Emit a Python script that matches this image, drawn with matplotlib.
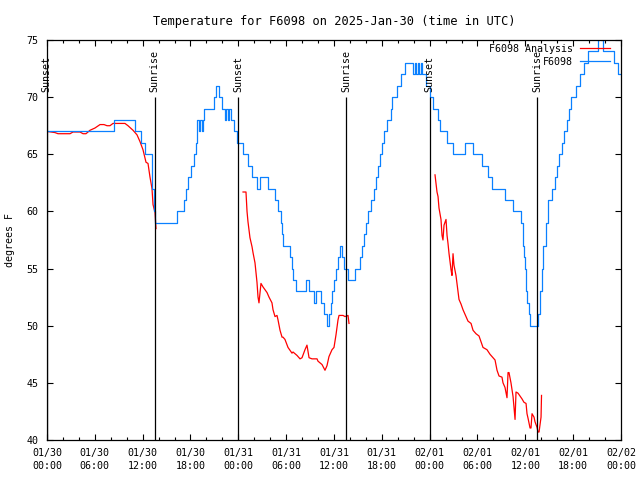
import numpy as np
import pandas as pd
import matplotlib
matplotlib.use('Agg')
import matplotlib.pyplot as plt
import matplotlib.dates as mdates

plt.rcParams['font.family'] = ['DejaVu Sans Mono']
plt.rcParams['font.size'] = 7.2

start = pd.Timestamp('2025-01-30 00:00')

# F6098 observations: hours since start, temperature (deg F) at each change
obs_hours = [0.0, 8.40, 11.04, 11.79, 12.29, 13.17, 13.36, 13.55, 16.31, 17.19,
             17.44, 17.69, 18.06, 18.44, 18.69, 18.82, 19.07, 19.25, 19.44, 19.62,
             19.75, 20.95, 21.20, 21.58, 21.95, 22.33, 22.50, 22.70, 22.88, 23.08,
             23.46, 23.83, 24.59, 25.21, 25.72, 26.34, 26.72, 27.72, 28.60, 28.98,
             29.35, 29.48, 29.60, 30.48, 30.73, 30.86, 31.23, 32.49, 32.87, 33.49,
             33.68, 34.37, 34.75, 35.12, 35.37, 35.62, 35.75, 36.00, 36.25, 36.50,
             36.75, 37.00, 37.26, 37.76, 38.63, 39.26, 39.51, 39.76, 40.01, 40.27,
             40.64, 41.02, 41.27, 41.52, 41.77, 42.02, 42.27, 42.65, 43.15, 43.28,
             43.90, 44.41, 44.91, 45.90, 46.10, 46.30, 46.50, 46.70, 46.90, 47.10,
             47.54, 48.04, 48.42, 49.05, 49.30, 50.18, 50.93, 52.43, 53.44, 54.57,
             55.32, 55.82, 57.45, 58.46, 59.46, 59.71, 59.83, 59.96, 60.09, 60.21,
             60.46, 60.59, 61.59, 61.84, 62.09, 62.22, 62.59, 62.84, 63.35, 63.72,
             63.97, 64.22, 64.60, 64.85, 65.23, 65.48, 65.73, 66.36, 66.86, 67.36,
             67.86, 69.12, 69.25, 69.49, 69.74, 71.12, 71.62, 72.0]
obs_temps = [67, 68, 67, 66, 65, 62, 60, 59, 60, 61,
             62, 63, 64, 65, 66, 68, 67, 68, 67, 68,
             69, 70, 71, 70, 69, 68, 69, 68, 69, 68,
             67, 66, 65, 64, 63, 62, 63, 62, 61, 60,
             59, 58, 57, 56, 55, 54, 53, 54, 53, 52,
             53, 52, 51, 50, 51, 52, 53, 54, 55, 56,
             57, 56, 55, 54, 55, 56, 57, 58, 59, 60,
             61, 62, 63, 64, 65, 66, 67, 68, 69, 70,
             71, 72, 73, 72, 73, 72, 73, 72, 73, 72,
             71, 70, 69, 68, 67, 66, 65, 66, 65, 64,
             63, 62, 61, 60, 59, 57, 56, 55, 53, 52,
             51, 50, 51, 53, 55, 57, 59, 61, 62, 63,
             64, 65, 66, 67, 68, 69, 70, 71, 72, 73,
             74, 75, 76, 75, 74, 73, 72, 72]

# F6098 analysis (nan = gap)
ana_hours = [0.00, 1.00, 1.38, 2.89, 3.26, 4.14, 4.52, 4.89, 5.39, 6.02,
             6.65, 7.15, 7.53, 7.90, 8.28, 9.78, 10.16, 10.79, 11.29, 11.67,
             12.04, 12.42, 12.67, 12.92, 13.17, 13.30, 13.55, 13.67, np.nan,
             24.59, 24.96, 25.09, 25.21, 25.46, 25.72, 25.84, 26.09, 26.34, 26.47,
             26.59, 26.84, 27.09, 27.60, 27.85, 28.22, 28.35, 28.60, 28.85, 28.98,
             29.23, 29.48, 29.60, 29.85, 30.23, 30.73, 30.86, 31.36, 31.74, 31.99,
             32.36, 32.61, 32.87, 33.24, 33.87, 33.99, 34.50, 34.87, 35.12, 35.37,
             35.75, 36.00, 36.25, 36.50, 36.63, 37.13, 37.38, 37.76, 37.88, np.nan,
             48.67, 48.92, 49.05, 49.17, 49.42, 49.55, 49.67, 49.80, 50.05, 50.18,
             50.30, 50.43, 50.68, 50.80, 50.93, 51.05, 51.30, 51.43, 51.68, 51.93,
             52.18, 52.56, 52.81, 53.19, 53.44, 53.81, 54.19, 54.44, 54.69, 55.19,
             55.57, 55.95, 56.20, 56.45, 56.70, 57.07, 57.20, 57.45, 57.70, 57.83,
             57.95, 58.20, 58.46, 58.58, 58.71, 58.83, 59.08, 59.58, 59.83, 60.09,
             60.21, 60.34, 60.59, 60.71, 60.84, 61.09, 61.21, 61.47, 61.59, 61.72,
             61.97, 62.03]
ana_temps = [67.0, 66.9, 66.8, 66.8, 66.95, 66.95, 66.8, 66.8, 67.1, 67.3,
             67.6, 67.6, 67.5, 67.5, 67.7, 67.7, 67.5, 67.1, 66.7, 66.1,
             65.4, 64.3, 64.2, 63.0, 62.0, 60.6, 59.9, 58.5, np.nan,
             61.7, 61.7, 60.0, 59.1, 57.7, 56.9, 56.4, 55.5, 53.8, 52.5,
             52.0, 53.7, 53.4, 52.9, 52.5, 52.0, 51.4, 50.8, 50.9, 50.5,
             49.6, 49.0, 49.0, 48.8, 48.1, 47.6, 47.7, 47.4, 47.1, 47.2,
             47.9, 48.3, 47.2, 47.1, 47.1, 46.9, 46.6, 46.1, 46.5, 47.3,
             47.9, 48.1, 49.2, 50.5, 50.9, 50.9, 50.8, 50.9, 50.2, np.nan,
             63.2, 61.7, 61.3, 60.3, 59.3, 57.9, 57.5, 58.8, 59.3, 57.9,
             57.2, 56.3, 54.9, 54.4, 56.3, 55.3, 54.4, 53.7, 52.3, 51.9,
             51.4, 50.8, 50.4, 50.2, 49.6, 49.3, 49.1, 48.6, 48.1, 47.9,
             47.5, 47.2, 47.0, 46.1, 45.6, 45.5, 45.0, 44.6, 43.7, 45.9,
             45.9, 45.0, 43.8, 42.8, 41.8, 44.2, 44.1, 43.6, 43.3, 43.2,
             42.3, 41.9, 41.05, 41.05, 42.3, 42.0, 41.6, 41.1, 40.7, 40.7,
             42.0, 43.9]

sun_times = ['2025-01-29 23:59', '2025-01-30 13:30', '2025-01-30 23:59',
             '2025-01-31 13:30', '2025-02-01 00:00', '2025-02-01 13:30']
sun_labels = ['Sunset', 'Sunrise', 'Sunset', 'Sunrise', 'Sunset', 'Sunrise']

obs_t = start + pd.to_timedelta(obs_hours, unit='h')
ana_t = start + pd.to_timedelta(ana_hours, unit='h')
sun_t = pd.to_datetime(sun_times)

fig = plt.figure(figsize=(6.4, 4.8), dpi=100)
ax = fig.add_axes([47 / 640, 40 / 480, 574 / 640, 400 / 480])

ax.plot(ana_t, ana_temps, color='#ff0000', linewidth=0.9, label='F6098 Analysis')
ax.plot(obs_t, obs_temps, color='#0a80ff', linewidth=0.9, drawstyle='steps-post',
        label='F6098')

for t, lab in zip(sun_t, sun_labels):
    ax.vlines(t, 40, 70, color='black', linewidth=0.9)
    ax.annotate(lab, (t, 70), xytext=(0, 3.5), textcoords='offset points',
                rotation=90, ha='center', va='bottom')

ax.set_xlim(pd.Timestamp('2025-01-30 00:00'), pd.Timestamp('2025-02-02 00:00'))
ax.set_ylim(40, 75)
ax.set_yticks(range(40, 76, 5))
ax.xaxis.set_major_locator(mdates.HourLocator(byhour=[0, 6, 12, 18]))
ax.xaxis.set_minor_locator(mdates.HourLocator(interval=2))
ax.xaxis.set_major_formatter(mdates.DateFormatter('%m/%d\n%H:%M'))
for lbl in ax.get_xticklabels():
    lbl.set_linespacing(1.3)

ax.tick_params(which='both', direction='in', top=True, right=True, width=0.8)
ax.tick_params(which='major', length=4.5)
ax.tick_params(which='minor', length=2.2)
ax.tick_params(axis='x', pad=6)
ax.tick_params(axis='y', pad=6)
for s in ax.spines.values():
    s.set_linewidth(0.9)

ax.set_title('Temperature for F6098 on 2025-Jan-30 (time in UTC)', pad=11)
fig.text(10 / 640, 0.5, 'degrees F', rotation=90, ha='center', va='center')

leg = ax.legend(loc='upper right', bbox_to_anchor=(1 - 11 / 574, 1 - 4 / 400),
                frameon=False, markerfirst=False, borderpad=0, borderaxespad=0,
                handlelength=3.0, handletextpad=0.7, labelspacing=0.3)
# right-align the legend rows like gnuplot does
leg._legend_handle_box.get_children()[0].align = 'right'

plt.savefig('out.png', dpi=100)
